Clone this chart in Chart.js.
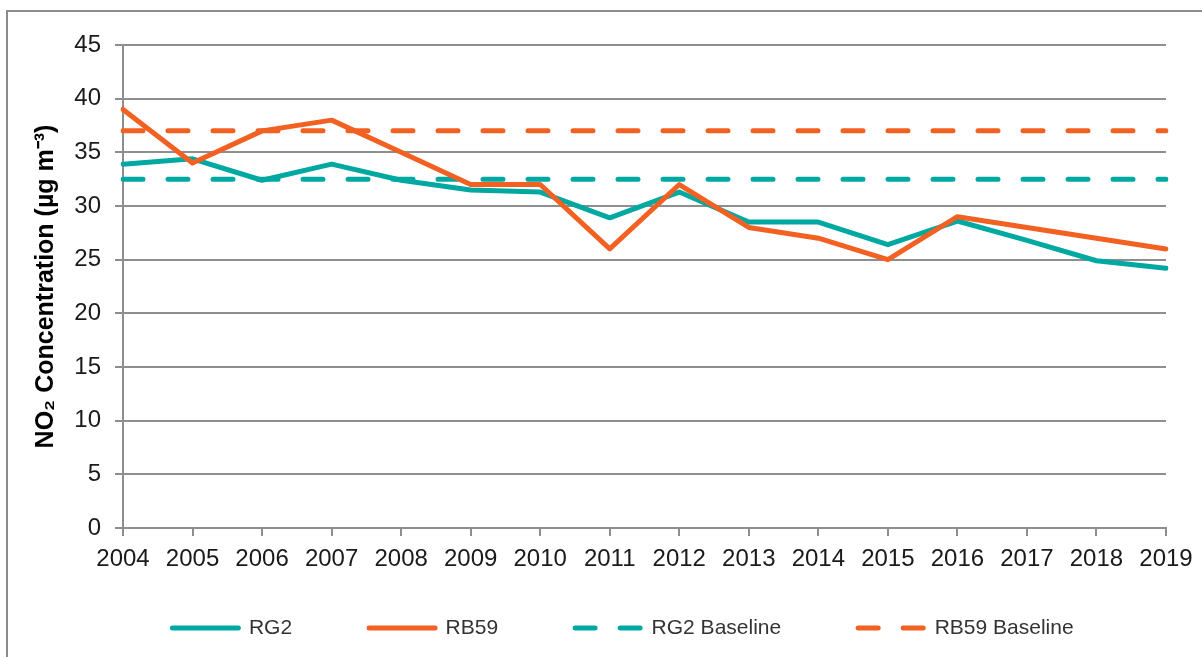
<!DOCTYPE html>
<html>
<head>
<meta charset="utf-8">
<script src="https://cdn.jsdelivr.net/npm/chart.js@4.4.1/dist/chart.umd.min.js"></script>
<style>
  html, body { margin: 0; padding: 0; background: #ffffff; overflow: hidden; }
  #wrap { position: relative; width: 1202px; height: 657px; }
  #frame { position: absolute; left: 6px; top: 10px; width: 1400px; height: 900px;
           border-left: 2px solid #8c8c8c; border-top: 2px solid #8c8c8c; }
  #c { position: absolute; left: 0; top: 0; }
</style>
</head>
<body>
<div id="wrap">
  <div id="frame"></div>
  <canvas id="c" width="1202" height="657"></canvas>
</div>
<script>
// ---- data ----
const years = ['2004','2005','2006','2007','2008','2009','2010','2011','2012','2013','2014','2015','2016','2017','2018','2019'];
const rg2 = [33.9, 34.4, 32.4, 33.9, 32.4, 31.5, 31.3, 28.9, 31.3, 28.5, 28.5, 26.4, 28.6, 26.8, 24.9, 24.2];
const rb59 = [39, 34, 37, 38, 35, 32, 32, 26, 32, 28, 27, 25, 29, 28, 27, 26];
const rg2Baseline = [32.5, 32.5, 32.5, 32.5, 32.5, 32.5, 32.5, 32.5, 32.5, 32.5, 32.5, 32.5, 32.5, 32.5, 32.5, 32.5];
const rb59Baseline = [37, 37, 37, 37, 37, 37, 37, 37, 37, 37, 37, 37, 37, 37, 37, 37];
const seriesNames = ['RG2', 'RB59', 'RG2 Baseline', 'RB59 Baseline'];
const yTitle = 'NO\u2082 Concentration (\u00b5g m\u207b\u00b3)';

const TEAL = '#00a8a2';
const ORANGE = '#f26122';
const GRID = '#8e8e8e';
const FONT = "'Liberation Sans', Arial, sans-serif";

Chart.defaults.font.family = FONT;

function lineDs(label, data, color, dashed, order) {
  return {
    label: label,
    data: data,
    borderColor: color,
    backgroundColor: color,
    borderWidth: 5,
    borderDash: dashed ? [20, 25] : [],
    borderCapStyle: 'round',
    borderJoinStyle: 'round',
    pointRadius: 0,
    pointHoverRadius: 0,
    tension: 0,
    fill: false,
    order: order
  };
}

const defaultLabels = Chart.defaults.plugins.legend.labels.generateLabels;

new Chart(document.getElementById('c'), {
  type: 'line',
  data: {
    labels: years,
    datasets: [
      lineDs(seriesNames[0], rg2, TEAL, false, 1),
      lineDs(seriesNames[1], rb59, ORANGE, false, 0),
      lineDs(seriesNames[2], rg2Baseline, TEAL, true, 2),
      lineDs(seriesNames[3], rb59Baseline, ORANGE, true, 3)
    ]
  },
  options: {
    responsive: false,
    animation: false,
    devicePixelRatio: 1,
    layout: { padding: { left: 0, right: -44, top: 45, bottom: 8.5 } },
    plugins: {
      tooltip: { enabled: false },
      legend: {
        position: 'bottom',
        align: 'center',
        labels: {
          usePointStyle: true,
          pointStyle: 'line',
          pointStyleWidth: 66,
          padding: 77,
          color: '#333333',
          font: { family: FONT, size: 21 },
          sort: (a, b) => a.datasetIndex - b.datasetIndex,
          generateLabels: (chart) => defaultLabels(chart).map((item) => {
            const ds = chart.data.datasets[item.datasetIndex];
            item.lineDash = ds.borderDash;
            item.lineCap = 'round';
            item.lineWidth = ds.borderWidth;
            item.strokeStyle = ds.borderColor;
            return item;
          })
        }
      }
    },
    scales: {
      x: {
        type: 'category',
        offset: false,
        grid: { display: true, drawOnChartArea: false, drawTicks: true, tickLength: 8, color: GRID, lineWidth: 2 },
        border: { display: true, color: GRID, width: 2 },
        ticks: { color: '#1a1a1a', font: { family: FONT, size: 24 }, mirror: true, padding: -45.4,
                 autoSkip: false, maxRotation: 0, minRotation: 0 },
        afterFit: (s) => { s.height = 12.5; s.paddingRight = 36; }
      },
      y: {
        min: 0,
        max: 45,
        grid: { display: true, drawTicks: true, tickLength: 8, color: GRID, lineWidth: 2 },
        border: { display: true, color: GRID, width: 2 },
        ticks: { stepSize: 5, color: '#1a1a1a', font: { family: FONT, size: 24 }, padding: 14 },
        title: { display: true, text: yTitle, color: '#000000', font: { family: FONT, size: 25, weight: 'bold' }, padding: { top: 31, bottom: 0 } },
        afterFit: (s) => { s.width = 123; }
      }
    }
  }
});
</script>
</body>
</html>
